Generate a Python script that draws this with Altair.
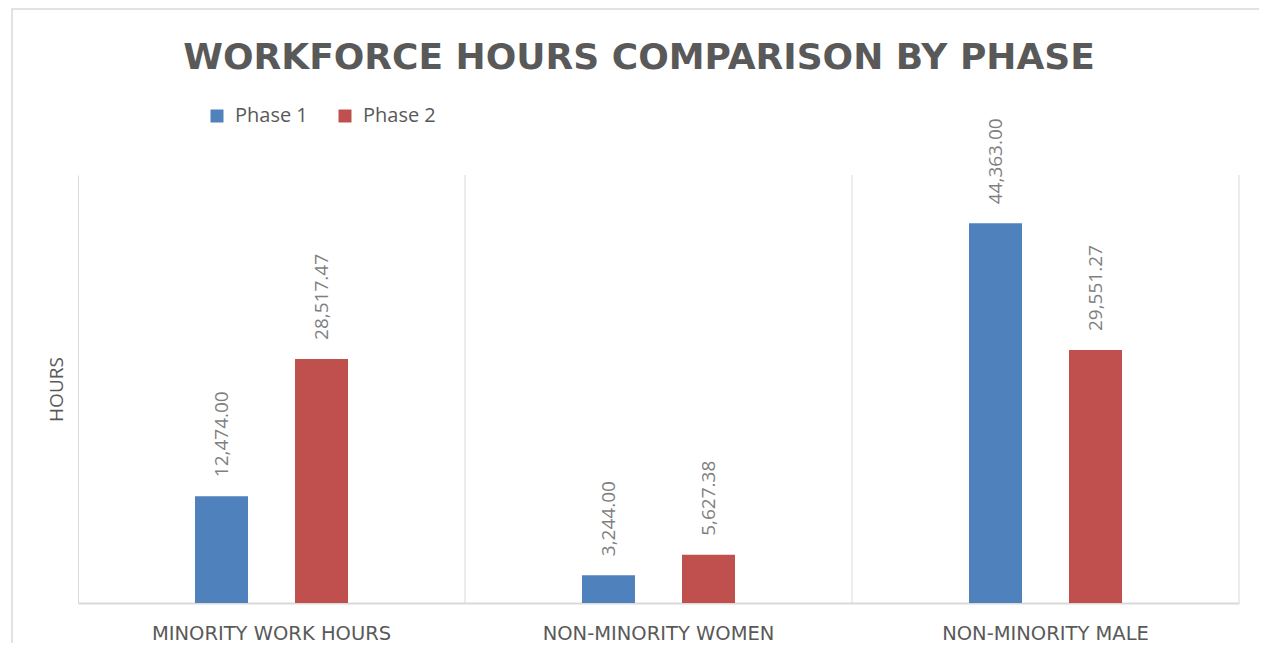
import altair as alt
import pandas as pd

categories = ["MINORITY WORK HOURS", "NON-MINORITY WOMEN", "NON-MINORITY MALE"]
phases = ["Phase 1", "Phase 2"]
phase1_hours = [12474.00, 3244.00, 44363.00]
phase2_hours = [28517.47, 5627.38, 29551.27]
colors = ["#4F81BD", "#C0504D"]
title_text = "WORKFORCE HOURS COMPARISON BY PHASE"

rows = []
for c, v in zip(categories, phase1_hours):
    rows.append({"category": c, "phase": "Phase 1", "hours": v})
for c, v in zip(categories, phase2_hours):
    rows.append({"category": c, "phase": "Phase 2", "hours": v})
df = pd.DataFrame(rows)
cat_df = pd.DataFrame({"category": categories})

x_scale = alt.Scale(domain=categories, paddingInner=0, paddingOuter=0)
x_axis = alt.Axis(
    title=None, labelAngle=0, ticks=False, grid=False,
    domainColor="#d9d9d9", domainWidth=2,
    labelFont="DejaVu Sans", labelFontSize=19.5, labelColor="#595959",
    labelPadding=21, labelLimit=0,
)
y_scale = alt.Scale(domain=[0, 50000], nice=False)
y_axis = alt.Axis(
    title="HOURS", labels=False, ticks=False, grid=False,
    domainColor="#d9d9d9", domainWidth=1,
    titleFont="Open Sans", titleFontSize=19, titleFontWeight="normal",
    titleColor="#595959", titlePadding=12,
)
xoff_scale = alt.Scale(domain=phases, range=[117, 270], paddingInner=0.47, paddingOuter=0)

frame = alt.Chart(pd.DataFrame({"k": [1]})).mark_rect(
    fill="transparent", stroke="#d9d9d9", strokeWidth=1.5
).encode(
    x=alt.value(-66), x2=alt.value(1400), y=alt.value(-166), y2=alt.value(800)
)

rules = alt.Chart(cat_df).mark_rule(color="#d9d9d9", strokeWidth=1).encode(
    x=alt.X("category:N", bandPosition=1, scale=x_scale, axis=x_axis, sort=categories)
)

bars = alt.Chart(df).mark_bar(strokeWidth=0).encode(
    x=alt.X("category:N", scale=x_scale, axis=x_axis, sort=categories),
    xOffset=alt.XOffset("phase:N", scale=xoff_scale, sort=phases),
    y=alt.Y("hours:Q", scale=y_scale, axis=y_axis),
    color=alt.Color(
        "phase:N",
        scale=alt.Scale(domain=phases, range=colors),
        legend=alt.Legend(
            title=None, orient="none", legendX=129, legendY=-69,
            direction="horizontal", symbolType="square", symbolSize=169,
            symbolStrokeWidth=0, labelFont="Open Sans", labelFontSize=20,
            labelColor="#595959", labelOffset=8, columnPadding=27,
        ),
    ),
)

labels = alt.Chart(df).mark_text(
    angle=270, align="left", baseline="middle", dx=19,
    font="Open Sans", fontSize=19, color="#7f7f7f",
).encode(
    x=alt.X("category:N", scale=x_scale, axis=x_axis, sort=categories),
    xOffset=alt.XOffset("phase:N", scale=xoff_scale, sort=phases),
    y=alt.Y("hours:Q", scale=y_scale, axis=y_axis),
    text=alt.Text("hours:Q", format=",.2f"),
)

title = alt.Chart(pd.DataFrame({"t": [title_text]})).mark_text(
    font="DejaVu Sans", fontSize=36, fontWeight="bold", color="#595959",
    align="center", baseline="alphabetic",
).encode(
    text="t:N", x=alt.value(561), y=alt.value(-106)
)

chart = alt.layer(frame, rules, bars, labels, title).properties(
    width=1161,
    height=428,
    autosize=alt.AutoSizeParams(type="none"),
    padding={"left": 70, "top": 167, "right": 20, "bottom": 40},
    background="white",
).configure_view(stroke=None)

chart.save("out.html", embed_options={"renderer": "svg", "actions": False})
